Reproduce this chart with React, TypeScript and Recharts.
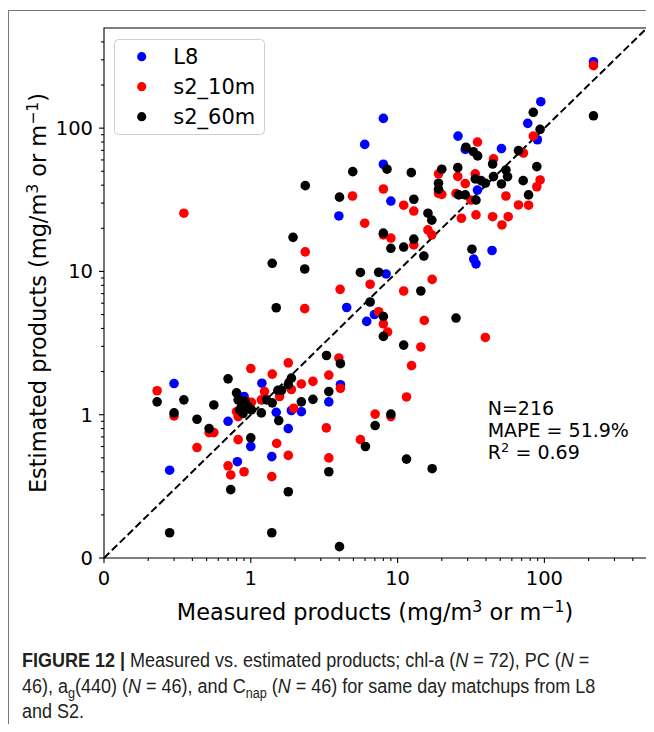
import React from 'react'
import { ScatterChart, Scatter, XAxis, YAxis, ReferenceLine, ReferenceArea } from 'recharts'

// [measured, estimated]
const l8Points: [number, number][] = [
  [0.3, 1.65], [0.28, 0.41], [0.7, 0.9], [0.81, 0.47], [0.9, 1.34], [1.0, 0.6], [1.19, 1.66],
  [1.49, 1.04], [1.39, 0.51], [1.8, 0.8], [1.89, 1.07], [2.21, 1.05], [3.4, 1.23], [4.08, 1.62],
  [3.98, 24.4], [5.97, 77], [8.0, 117], [8.0, 56], [9.0, 31], [6.16, 4.48], [6.95, 5.0],
  [8.35, 9.6], [4.5, 5.6], [25.8, 88], [28.9, 71], [51, 72], [35, 37], [94.5, 153], [77, 108],
  [89.6, 83], [216, 291], [33, 12.2], [34.2, 11.3], [44, 14],
]

const s2_10mPoints: [number, number][] = [
  [0.23, 1.47], [0.3, 0.98], [0.52, 0.75], [0.56, 0.75], [0.43, 0.59], [0.7, 0.44], [0.73, 0.38],
  [0.82, 0.67], [0.9, 0.4], [0.8, 1.05], [0.94, 1.24], [1.01, 1.22], [0.82, 0.97], [1.0, 2.1],
  [1.24, 1.45], [1.18, 1.27], [1.4, 1.92], [1.57, 1.34], [1.5, 0.63], [1.39, 0.37], [1.8, 2.3],
  [1.89, 1.5], [1.8, 0.52], [1.96, 1.11], [2.21, 1.64], [2.65, 1.71], [3.4, 1.89], [3.27, 0.81],
  [3.4, 0.5], [3.98, 2.49], [4.08, 1.53], [11.5, 1.33], [7.03, 1.01], [9.0, 0.97], [5.58, 0.67],
  [14.4, 2.97], [12.45, 2.2], [15.2, 4.55], [39.6, 3.46], [7.43, 5.23], [8.0, 4.31], [8.55, 3.78],
  [6.5, 8.14], [4.06, 7.5], [2.33, 5.5], [2.35, 13.7], [11.0, 7.3], [17.2, 8.8], [4.93, 33.6],
  [8.0, 37.6], [5.97, 21.7], [11.0, 29], [12.9, 26.4], [9.0, 17.1], [8.0, 18], [12.9, 15.3],
  [16.1, 19.5], [17.1, 18], [19, 48], [19, 35], [20, 34.5], [25, 35], [25.7, 46], [35, 80],
  [45, 61], [72, 67], [33.8, 48], [28.9, 41], [93.5, 43.5], [88.8, 39], [31.6, 31.5], [27.2, 23.5],
  [34.2, 24.8], [44.4, 24.1], [54.7, 33.6], [56.7, 24.1], [66.6, 29.1], [78, 29], [51.4, 21.1],
  [84, 88], [216, 273], [0.35, 25.5],
]

const s2_60mPoints: [number, number][] = [
  [0.23, 1.23], [0.3, 1.03], [0.35, 1.27], [0.43, 0.93], [0.52, 0.8], [0.56, 1.17], [0.28, 0.15],
  [0.7, 1.78], [0.73, 0.3], [0.8, 1.42], [0.82, 1.27], [0.865, 1.17], [0.91, 1.24], [0.958, 1.14],
  [1.01, 1.08], [0.886, 1.02], [0.84, 1.08], [1.0, 0.69], [1.18, 1.03], [1.28, 1.27], [1.4, 1.21],
  [1.53, 1.48], [1.62, 1.48], [1.55, 0.91], [1.39, 0.15], [1.8, 1.62], [1.89, 1.8], [1.8, 0.29],
  [2.21, 1.23], [2.65, 1.28], [3.28, 2.59], [3.4, 1.45], [4.08, 2.27], [3.4, 0.4], [4.02, 0.12],
  [6.04, 0.6], [7.03, 0.84], [9.0, 1.01], [11.5, 0.49], [17.2, 0.42], [11.0, 3.06], [25, 4.73],
  [8.0, 3.52], [8.0, 4.85], [6.5, 6.12], [5.58, 9.84], [7.43, 9.87], [14.4, 7.3], [2.33, 10.4],
  [1.49, 5.58], [1.4, 11.4], [1.94, 17.3], [2.35, 39.7], [4.02, 33], [4.95, 49.7], [8.47, 51.7],
  [12.4, 48.9], [12.9, 31.9], [8.0, 18.5], [9.0, 14.5], [11.0, 14.8], [12.9, 16.8], [15.1, 12.8],
  [16.1, 25.5], [17.1, 22.8], [19, 41.3], [19, 37.5], [20, 51.7], [25.7, 53], [26.1, 34.2],
  [28.9, 34.2], [29.2, 73.6], [32.8, 68.5], [35.1, 64], [33.8, 44.2], [37, 43], [39.6, 41.3],
  [34.2, 31.5], [44.4, 56.2], [45, 45.9], [54.7, 51.1], [56.1, 45.9], [51, 40.8], [66.6, 69.7],
  [71.7, 43], [78, 34.2], [88.8, 53.9], [93.5, 98], [84, 129], [216, 122], [32.1, 14.3],
]

const axisTicks = [
  0.1, 0.2, 0.3, 0.4, 0.5, 0.6, 0.7, 0.8, 0.9,
  1, 2, 3, 4, 5, 6, 7, 8, 9,
  10, 20, 30, 40, 50, 60, 70, 80, 90,
  100, 200, 300, 400,
]
const tickLabels: Record<string, string> = { '0.1': '0', '1': '1', '10': '10', '100': '100' }
const axisDomain = [0.1, 500]

const FONT = "'DejaVu Sans', sans-serif"

const toPts = (arr: [number, number][]) => arr.map(([x, y]) => ({ x, y }))

const dot = (color: string) => (props: any) => (
  <circle cx={props.cx} cy={props.cy} r={4.8} fill={color} />
)

const XTick = ({ x, y, payload }: any) => {
  const label = tickLabels[String(payload.value)]
  return (
    <g>
      <line x1={x} x2={x} y1={y} y2={y + (label ? 5 : 3)} stroke="#000" strokeWidth={1.1} />
      {label && (
        <text x={x} y={y + 27} textAnchor="middle" fontSize={19.5} fontFamily={FONT} fill="#000">
          {label}
        </text>
      )}
    </g>
  )
}

const YTick = ({ x, y, payload }: any) => {
  const label = tickLabels[String(payload.value)]
  return (
    <g>
      <line x1={x} x2={x - (label ? 5 : 3)} y1={y} y2={y} stroke="#000" strokeWidth={1.1} />
      {label && (
        <text x={x - 11} y={y + 7} textAnchor="end" fontSize={19.5} fontFamily={FONT} fill="#000">
          {label}
        </text>
      )}
    </g>
  )
}

const subStyle = { fontSize: 14, lineHeight: 0 }

export default function App() {
  return (
    <div style={{ position: 'relative', width: 646, height: 716 }}>
      <div style={{
        position: 'absolute', left: 0, top: 2, width: 646, height: 714,
        borderTop: '1px solid #777', borderLeft: '1px solid #777', boxSizing: 'border-box',
      }} />

      <div style={{ position: 'absolute', left: 0, top: 0 }}>
        <ScatterChart width={646} height={620} margin={{ top: 20, right: 7, left: 0, bottom: 30 }}>
          <XAxis
            type="number" dataKey="x" scale="log" domain={axisDomain} allowDataOverflow
            ticks={axisTicks} interval={0} tickSize={0} tickMargin={0}
            tick={<XTick />} tickLine={false} axisLine={false} height={40}
          />
          <YAxis
            type="number" dataKey="y" scale="log" domain={axisDomain} allowDataOverflow
            ticks={axisTicks} interval={0} tickSize={0} tickMargin={0}
            tick={<YTick />} tickLine={false} axisLine={false} width={96}
          />
          <ReferenceLine
            segment={[{ x: 0.1, y: 0.1 }, { x: 500, y: 500 }]}
            stroke="#000" strokeWidth={2} strokeDasharray="7.5 3.5" ifOverflow="visible"
          />
          <Scatter data={toPts(l8Points)} fill="#0000ff" shape={dot('#0000ff')} isAnimationActive={false} />
          <Scatter data={toPts(s2_10mPoints)} fill="#ff0000" shape={dot('#ff0000')} isAnimationActive={false} />
          <Scatter data={toPts(s2_60mPoints)} fill="#000000" shape={dot('#000000')} isAnimationActive={false} />
          <ReferenceArea
            x1={0.1} x2={500} y1={0.1} y2={500}
            fill="none" fillOpacity={0} stroke="#000" strokeWidth={1.1} ifOverflow="visible"
          />
        </ScatterChart>
      </div>

      <svg width={646} height={620} style={{ position: 'absolute', left: 0, top: 0, pointerEvents: 'none' }}
        fontFamily={FONT}>
        {/* legend */}
        <rect x={106.5} y={31.5} width={150} height={95} rx={4} fill="#fff" fillOpacity={0.85} stroke="#cfcfcf" />
        <circle cx={133.7} cy={48.7} r={4.6} fill="#0000ff" />
        <circle cx={133.7} cy={78.7} r={4.6} fill="#ff0000" />
        <circle cx={133.7} cy={108.7} r={4.6} fill="#000000" />
        <text x={165.3} y={56.4} fontSize={21} fill="#000">L8</text>
        <text x={165.3} y={86.4} fontSize={21} fill="#000">s2_10m</text>
        <text x={165.3} y={116.4} fontSize={21} fill="#000">s2_60m</text>

        {/* stats */}
        <text x={479.7} y={406.5} fontSize={19} fill="#000">N=216</text>
        <text x={479.7} y={428.5} fontSize={19} fill="#000">MAPE = 51.9%</text>
        <text x={479.7} y={450.5} fontSize={19} fill="#000">R</text>
        <text x={493} y={443.5} fontSize={13} fill="#000">2</text>
        <text x={507.5} y={450.5} fontSize={19} fill="#000">= 0.69</text>

        {/* axis titles */}
        <text x={367} y={612} textAnchor="middle" fontSize={22.4} fill="#000">
          Measured products (mg/m<tspan dy={-8.5} fontSize={15.7}>3</tspan>
          <tspan dy={8.5}> or m</tspan><tspan dy={-8.5} fontSize={15.7}>−1</tspan><tspan dy={8.5}>)</tspan>
        </text>
        <text x={38} y={285} transform="rotate(-90 38 285)" textAnchor="middle" fontSize={22.4} fill="#000">
          Estimated products (mg/m<tspan dy={-8.5} fontSize={15.7}>3</tspan>
          <tspan dy={8.5}> or m</tspan><tspan dy={-8.5} fontSize={15.7}>−1</tspan><tspan dy={8.5}>)</tspan>
        </text>
      </svg>

      <div style={{
        position: 'absolute', left: 14, top: 640, whiteSpace: 'nowrap', color: '#231f20',
        fontFamily: "'Liberation Sans', Arial, sans-serif",
        fontSize: 20, lineHeight: '25.5px', transform: 'scaleX(0.9)', transformOrigin: '0 0',
      }}>
        <div><b>FIGURE 12 |</b> Measured vs. estimated products; chl-a (<i>N</i> = 72), PC (<i>N</i> =</div>
        <div>46), a<sub style={subStyle}>g</sub>(440) (<i>N</i> = 46), and C<sub style={subStyle}>nap</sub> (<i>N</i> = 46) for same day matchups from L8</div>
        <div>and S2.</div>
      </div>
    </div>
  )
}
